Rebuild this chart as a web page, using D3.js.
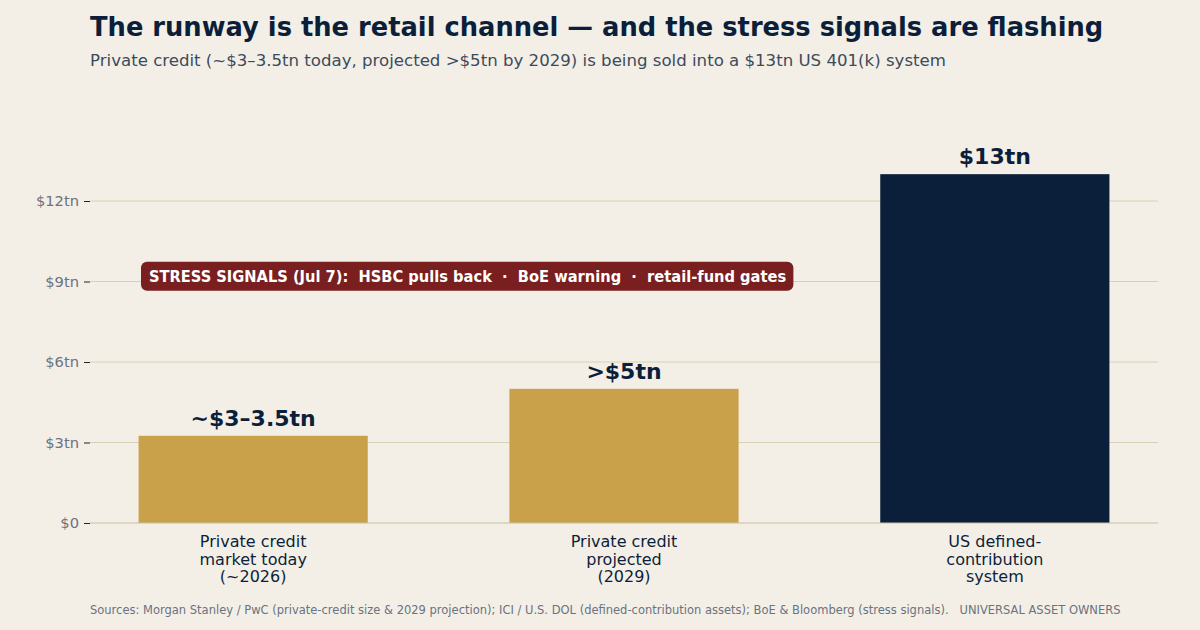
<!DOCTYPE html>
<html><head><meta charset="utf-8">
<script src="https://cdn.jsdelivr.net/npm/d3@7"></script>
<style>
html,body{margin:0;padding:0;background:#f3efe7;}
svg{display:block;font-family:"DejaVu Sans",sans-serif;}
</style></head>
<body><svg id="c" width="1200" height="630"></svg>
<script>
const categories = [
  ["Private credit", "market today", "(~2026)"],
  ["Private credit", "projected", "(2029)"],
  ["US defined-", "contribution", "system"]
];
const values = [3.25, 5, 13];
const valueLabels = ["~$3–3.5tn", ">$5tn", "$13tn"];
const barColors = ["#c9a14b", "#c9a14b", "#0c1f3a"];
const yTicks = [0, 3, 6, 9, 12];
const yTickLabels = ["$0", "$3tn", "$6tn", "$9tn", "$12tn"];
const stressText = "STRESS SIGNALS (Jul 7):  HSBC pulls back  ·  BoE warning  ·  retail-fund gates";
const stressLevel = 9.2;

const svg = d3.select("#c");
const W = 1200, H = 630;
svg.append("rect").attr("width", W).attr("height", H).attr("fill", "#f3efe7");

const x = d3.scaleBand().domain(d3.range(values.length)).range([90, 1158])
  .paddingInner(0.382).paddingOuter(0.131);
const y = d3.scaleLinear().domain([0, 12]).range([523, 201]);

// gridlines
svg.append("g").selectAll("line").data(yTicks.filter(d => d > 0)).join("line")
  .attr("x1", 90).attr("x2", 1158)
  .attr("y1", d => y(d)).attr("y2", d => y(d))
  .attr("stroke", "#d8d0b6").attr("stroke-width", 1);

// y axis
const yAxis = d3.axisLeft(y).tickValues(yTicks).tickFormat((d, i) => yTickLabels[i]).tickSize(6).tickPadding(5);
const gy = svg.append("g").attr("transform", "translate(90,0)").call(yAxis);
gy.select(".domain").remove();
gy.selectAll(".tick line").attr("stroke", "#222").attr("stroke-width", 1);
gy.selectAll(".tick text").attr("fill", "#6b7280").style("font-size", "14.7px").style("font-family", "DejaVu Sans");

// bars
svg.append("g").selectAll("rect").data(values).join("rect")
  .attr("x", (d, i) => x(i)).attr("width", x.bandwidth())
  .attr("y", d => y(d)).attr("height", d => y(0) - y(d))
  .attr("fill", (d, i) => barColors[i]);

// baseline
svg.append("line").attr("x1", 90).attr("x2", 1158).attr("y1", y(0)).attr("y2", y(0))
  .attr("stroke", "#c8bfa2").attr("stroke-width", 1.2);

// value labels
svg.append("g").selectAll("text").data(values).join("text")
  .attr("x", (d, i) => x(i) + x.bandwidth() / 2).attr("y", d => y(d) - 10)
  .attr("text-anchor", "middle").attr("fill", "#0c1f3a")
  .style("font-size", "22px").style("font-weight", "bold")
  .text((d, i) => valueLabels[i]);

// category labels
const cg = svg.append("g").selectAll("text").data(categories).join("text")
  .attr("x", (d, i) => x(i) + x.bandwidth() / 2).attr("y", 547)
  .attr("text-anchor", "middle").attr("fill", "#0c1f3a").style("font-size", "16px");
cg.selectAll("tspan").data(d => d).join("tspan")
  .attr("x", function () { return d3.select(this.parentNode).attr("x"); })
  .attr("dy", (d, i) => i === 0 ? 0 : 17.5).text(d => d);

// stress box
const sg = svg.append("g");
const st = sg.append("text").attr("x", 149).attr("y", y(stressLevel) + 5.5)
  .attr("fill", "#ffffff").style("font-size", "16.3px").style("font-weight", "bold")
  .style("font-family", "'DejaVu Sans Condensed','DejaVu Sans',sans-serif").style("font-stretch", "condensed")
  .style("white-space", "pre").attr("xml:space", "preserve").text(stressText);
const bb = st.node().getBBox();
sg.insert("rect", "text").attr("x", bb.x - 8).attr("y", y(stressLevel) - 14.5)
  .attr("width", bb.width + 15).attr("height", 29).attr("rx", 6)
  .attr("fill", "#7a1f1f");

// title & subtitle
svg.append("text").attr("x", 90).attr("y", 36).attr("fill", "#0c1f3a")
  .style("font-size", "25.75px").style("font-weight", "bold")
  .text("The runway is the retail channel — and the stress signals are flashing");
svg.append("text").attr("x", 90).attr("y", 66).attr("fill", "#3d4a5c")
  .style("font-size", "16.6px")
  .text("Private credit (~$3–3.5tn today, projected >$5tn by 2029) is being sold into a $13tn US 401(k) system");

// footer
svg.append("text").attr("x", 90).attr("y", 614).attr("fill", "#6b7280")
  .style("font-size", "11.5px").style("white-space", "pre").attr("xml:space", "preserve")
  .text("Sources: Morgan Stanley / PwC (private-credit size & 2029 projection); ICI / U.S. DOL (defined-contribution assets); BoE & Bloomberg (stress signals).   UNIVERSAL ASSET OWNERS");
</script></body></html>
